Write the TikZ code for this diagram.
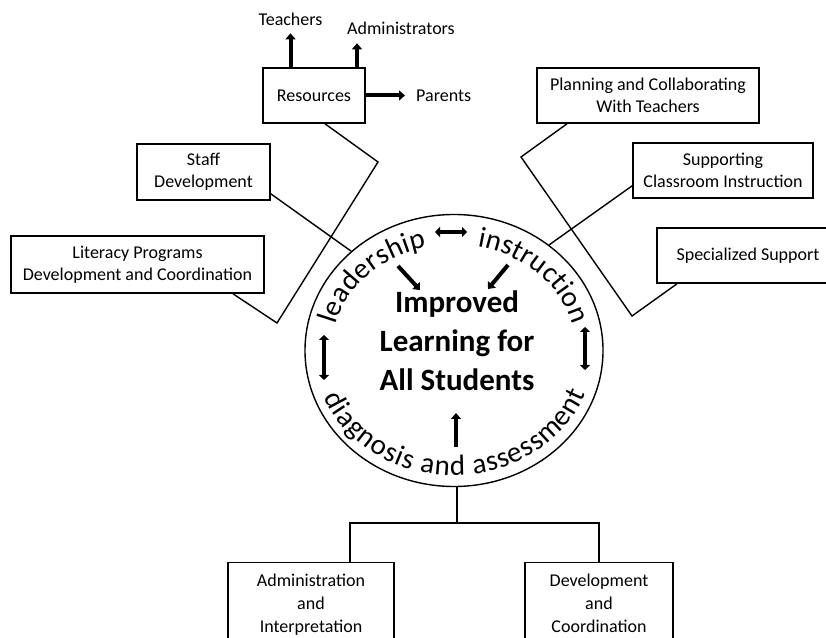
\documentclass[tikz,border=0pt]{standalone}
\usepackage{fontspec}
\setmainfont{Carlito}
\usetikzlibrary{shapes.geometric,arrows.meta,decorations.text}
\newcommand\curvefont{\fontsize{29}{32}\selectfont}
\tikzset{
  box/.style={draw, line width=1.6pt, align=center, inner sep=2pt, font=\fontsize{18}{22}\selectfont},
  lbl/.style={inner sep=0pt, font=\fontsize{18}{22}\selectfont},
  conn/.style={line width=1.4pt},
  fat/.style={line width=4pt, -{Triangle[length=6pt,width=10pt]}},
  fatboth/.style={line width=4pt, {Triangle[length=5pt,width=10pt]}-{Triangle[length=5pt,width=10pt]}},
}
\begin{document}
\begin{tikzpicture}[x=1pt,y=1pt]
\useasboundingbox (0,0) rectangle (826,637);
\fill[white] (0,0) rectangle (826,637);
\clip (0,0) rectangle (826,637);

% central ellipse
\node[draw, ellipse, line width=1.4pt, minimum width=298pt, minimum height=272pt, inner sep=0pt] (circ) at (454,286.5) {};
\node[font=\fontsize{31}{39}\selectfont\bfseries, align=center, inner sep=0pt] (main) at (457,296) {Improved\\Learning for\\All Students};

% curved texts
\path[decorate, decoration={text along path, text={|\curvefont|leadership}, text align={fit to path}}]
  ([shift={(166:122pt and 106pt)}]circ.center) arc[start angle=166, end angle=103, x radius=122pt, y radius=106pt];
\path[decorate, decoration={text along path, text={|\curvefont|instruction}, text align={fit to path}}]
  ([shift={(79:122pt and 106pt)}]circ.center) arc[start angle=79, end angle=14, x radius=122pt, y radius=106pt];
\path[decorate, decoration={text along path, text={|\curvefont|diagnosis and assessment}, text align={fit to path}}]
  ([shift={(202:140pt and 125pt)}]circ.center) arc[start angle=202, end angle=340, x radius=140pt, y radius=125pt];

% arrows inside the circle
\coordinate (la1) at (398,371); \coordinate (la2) at (420,347);
\coordinate (ia1) at (508,372); \coordinate (ia2) at (488,348);
\coordinate (ha1) at (435,405); \coordinate (ha2) at (467,405);
\coordinate (lv1) at (324,302); \coordinate (lv2) at (324,257);
\coordinate (rv1) at (585,310); \coordinate (rv2) at (585,267);
\coordinate (ba1) at (456,190); \coordinate (ba2) at (456,224);
\draw[fat] (la1) -- (la2);
\draw[fat] (ia1) -- (ia2);
\draw[fatboth] (ha1) -- (ha2);
\draw[fatboth] (lv1) -- (lv2);
\draw[fatboth] (rv1) -- (rv2);
\draw[fat] (ba1) -- (ba2);

% boxes
\node[box, minimum width=102pt, minimum height=55pt] (res) at (314,541.5) {Resources};
\node[box, minimum width=133pt, minimum height=56pt] (staff) at (203.5,465) {Staff\\Development};
\node[box, minimum width=253pt, minimum height=57pt] (lit) at (137.5,372.5) {Literacy Programs\\Development and Coordination};
\node[box, minimum width=222pt, minimum height=55pt] (plan) at (648,541.5) {Planning and Collaborating\\With Teachers};
\node[box, minimum width=180pt, minimum height=55pt] (sup) at (723,466.5) {Supporting\\Classroom Instruction};
\node[box, minimum width=182pt, minimum height=55pt] (spec) at (748,381.5) {Specialized Support};
\node[box, font=\fontsize{18}{23}\selectfont, minimum width=166pt, minimum height=84pt, anchor=north] (adm) at (311,75.5) {Administration\\and\\Interpretation};
\node[box, font=\fontsize{18}{23}\selectfont, minimum width=148pt, minimum height=82pt, anchor=north] (dev) at (599,75.5) {Development\\and\\Coordination};

% resource labels
\node[lbl, anchor=base] (teach) at (290.5,611) {Teachers};
\node[lbl, anchor=base west] (admin) at (347,602) {Administrators};
\node[lbl, anchor=base west] (par) at (416,535.5) {Parents};
\draw[fat] (teach.south |- res.north) -- ([yshift=-7pt]teach.south);
\draw[fat] ([xshift=10pt]admin.south west |- res.north) -- ([xshift=10pt,yshift=-8pt]admin.south west);
\draw[fat] (res.east) -- ([xshift=-11pt]par.west |- res.east);

% connectors left
\coordinate (lb1) at (378,475);
\coordinate (lb2) at (277,314);
\draw[conn] ([xshift=11pt]res.south) -- (lb1) -- (lb2) -- ([xshift=95.5pt]lit.south);
\draw[conn] ([yshift=7pt]staff.south east) -- (circ.136);

% connectors right
\coordinate (rb1) at (521,480);
\coordinate (rb2) at (632,321);
\draw[conn] ([xshift=-81pt]plan.south) -- (rb1) -- (rb2) -- ([xshift=-71pt]spec.south);
\draw[conn] ([yshift=13pt]sup.south west) -- (circ.48);

% tree below
\coordinate (jn) at (457,114);
\draw[conn] (circ.south -| jn) -- (jn);
\draw[conn] (jn) -| ([xshift=39pt]adm.north);
\draw[conn] (jn) -| (dev.north);
\end{tikzpicture}
\end{document}
